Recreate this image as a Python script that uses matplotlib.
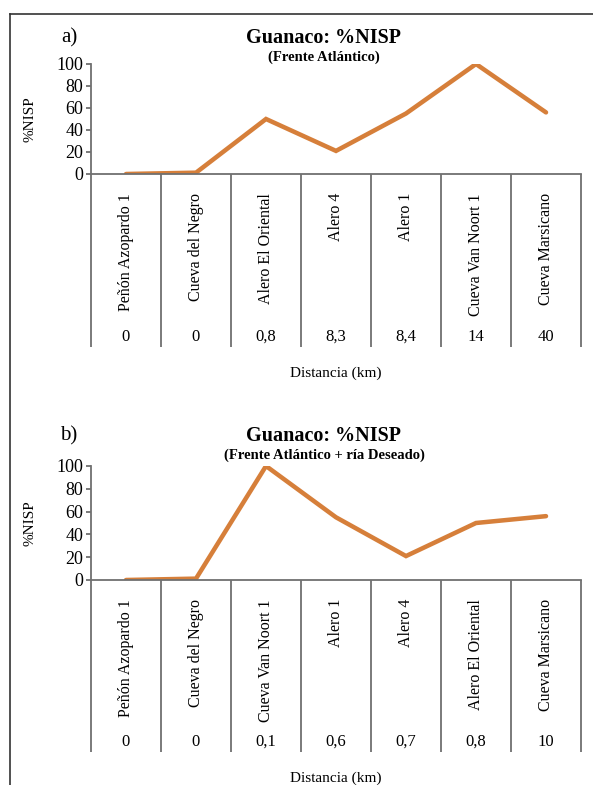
import matplotlib
matplotlib.use("Agg")
import matplotlib.pyplot as plt
from matplotlib.lines import Line2D

plt.rcParams['font.family'] = ['Liberation Serif', 'DejaVu Serif']

# panel a: Frente Atlántico
sites_a = ["Peñón Azopardo 1", "Cueva del Negro", "Alero El Oriental", "Alero 4",
           "Alero 1", "Cueva Van Noort 1", "Cueva Marsicano"]
dist_a = ["0", "0", "0,8", "8,3", "8,4", "14", "40"]
nisp_a = [0, 1.2, 50, 21, 55, 100, 56]

# panel b: Frente Atlántico + ría Deseado
sites_b = ["Peñón Azopardo 1", "Cueva del Negro", "Cueva Van Noort 1", "Alero 1",
           "Alero 4", "Alero El Oriental", "Cueva Marsicano"]
dist_b = ["0", "0", "0,1", "0,6", "0,7", "0,8", "10"]
nisp_b = [0, 1.2, 100, 55, 21, 50, 56]

W, H = 593, 785
DPI = 100
LINE = "#D67F3A"
GRAY = "#707070"
PT = 72.0 / DPI  # pixels -> points

fig = plt.figure(figsize=(W / DPI, H / DPI), dpi=DPI)


def px_rect(left, top, right, bottom):
    return [left / W, 1 - bottom / H, (right - left) / W, (bottom - top) / H]


def panel(rect, sites, dist, vals, letter, subtitle, title_y, depth):
    ax = fig.add_axes(rect)
    x = list(range(len(sites)))
    ax.plot(x, vals, color=LINE, lw=4.5 * PT, solid_capstyle="round",
            solid_joinstyle="miter")
    ax.set_xlim(-0.5, len(sites) - 0.5)
    ax.set_ylim(0, 100)
    ax.set_yticks(range(0, 101, 20))
    ax.set_ylabel("%NISP", fontsize=11, labelpad=14)

    for s in ["top", "right"]:
        ax.spines[s].set_visible(False)
    for s in ["left", "bottom"]:
        ax.spines[s].set_color(GRAY)
        ax.spines[s].set_linewidth(1.3)

    ax.tick_params(axis="y", direction="out", length=5 * PT, width=1.3,
                   color=GRAY, labelsize=13, pad=2)
    ax.set_xticks(x)
    ax.set_xticklabels(sites, rotation=90, fontsize=11.5, va="top")
    ax.tick_params(axis="x", which="major", length=0, pad=19 * PT)
    ax.set_xticks([i - 0.5 for i in range(len(sites) + 1)], minor=True)
    ax.tick_params(axis="x", which="minor", direction="out",
                   length=depth * PT, width=1.3, color=GRAY)

    for i, d in enumerate(dist):
        ax.annotate(d, xy=(i, 0), xytext=(0, -(depth - 10) * PT),
                    textcoords="offset points", ha="center", va="center",
                    fontsize=12, annotation_clip=False)
    ax.annotate("Distancia (km)", xy=((len(sites) - 1) / 2, 0),
                xytext=(0, -(depth + 26) * PT), textcoords="offset points",
                ha="center", va="center", fontsize=11, annotation_clip=False)

    fig.text(69 / W, 1 - title_y / H, letter, fontsize=15, ha="center", va="center")
    fig.text(324 / W, 1 - title_y / H, "Guanaco: %NISP", fontsize=14.5,
             fontweight="bold", ha="center", va="center")
    fig.text(324 / W, 1 - (title_y + 19) / H, subtitle, fontsize=10.5,
             fontweight="bold", ha="center", va="center")
    return ax


panel(px_rect(91, 64, 581, 174), sites_a, dist_a, nisp_a, "a)",
      "(Frente Atlántico)", 38, 173)
panel(px_rect(91, 466, 581, 580), sites_b, dist_b, nisp_b, "b)",
      "(Frente Atlántico + ría Deseado)", 436, 172)

# outer frame (top and left edges visible)
fig.add_artist(Line2D([10 / W, 1], [1 - 14 / H, 1 - 14 / H], color="#333333", lw=1.2))
fig.add_artist(Line2D([10 / W, 10 / W], [1 - 14 / H, 0], color="#333333", lw=1.2))

fig.savefig("out.png", dpi=DPI)
